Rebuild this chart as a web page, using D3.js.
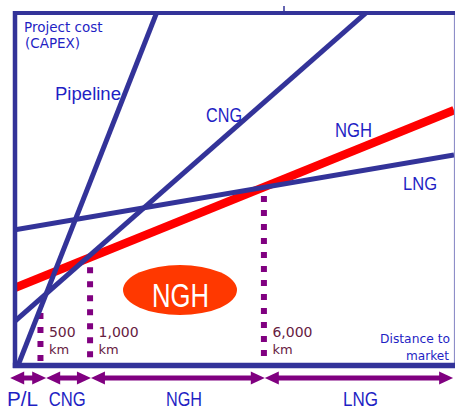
<!DOCTYPE html>
<html>
<head>
<meta charset="utf-8">
<script src="https://cdn.jsdelivr.net/npm/d3@7"></script>
<style>
  html, body { margin: 0; padding: 0; background: #fff; }
  svg { display: block; }
</style>
</head>
<body>
<svg id="chart" width="455" height="411"></svg>
<script>
// ---- data (abstract units 0..100) ----
const routes = ["Pipeline", "CNG", "NGH", "LNG"];
const costAtZero = [-2.3, 12.5, 21.9, 38.4];   // project cost at distance 0
const costAtEnd = [315, 122, 72.4, 59.7];      // project cost at distance 100

const breakLabels = ["500", "1,000", "6,000"];
const breakDistance = [5.8, 17.1, 56.7];
const breakTopCost = [14.8, 27.8, 48];

const segmentNames = ["P/L", "CNG", "NGH", "LNG"];
const segmentEdges = [-1.1, 7.1, 17.3, 56.9, 99.8];
const segmentLabelAt = [1.7, 11.9, 38.5, 78.7];

// ---- drawing ----
const svg = d3.select("#chart");
const x = d3.scaleLinear().domain([0, 100]).range([15, 454]);
const y = d3.scaleLinear().domain([0, 100]).range([365, 13]);

const navy = "#333399";
const textBlue = "#1f1fc4";
const purple = "#800080";
const maroon = "#66203f";

svg.append("defs").append("clipPath").attr("id", "plot")
  .append("rect")
  .attr("x", x(0)).attr("y", y(100))
  .attr("width", x(100) - x(0)).attr("height", y(0) - y(100));

// dotted break lines
const brk = svg.append("g");
breakDistance.forEach((d, i) => {
  brk.append("line")
    .attr("x1", x(d)).attr("x2", x(d))
    .attr("y1", y(breakTopCost[i])).attr("y2", y(0))
    .attr("stroke", purple).attr("stroke-width", 6)
    .attr("stroke-dasharray", "6 8");
});

// route lines
const lines = svg.append("g").attr("clip-path", "url(#plot)");
const order = [2, 0, 1, 3]; // red underneath the blue ones
order.forEach(i => {
  const isNGH = routes[i] === "NGH";
  lines.append("line")
    .attr("x1", x(0)).attr("y1", y(costAtZero[i]))
    .attr("x2", x(100)).attr("y2", y(costAtEnd[i]))
    .attr("stroke", isNGH ? "#ff0000" : navy)
    .attr("stroke-width", isNGH ? 8.5 : 5);
});

// frame
svg.append("line").attr("x1", x(100) + 0.5).attr("x2", x(100) + 0.5)
  .attr("y1", y(100)).attr("y2", y(0))
  .attr("stroke", "#8e8ec8").attr("stroke-width", 1.2);
svg.append("line").attr("x1", x(0) - 2).attr("x2", 455)
  .attr("y1", y(100)).attr("y2", y(100))
  .attr("stroke", navy).attr("stroke-width", 4);
svg.append("line").attr("x1", x(0)).attr("x2", x(0))
  .attr("y1", y(100) - 2).attr("y2", y(0) + 3)
  .attr("stroke", navy).attr("stroke-width", 4.5);
svg.append("line").attr("x1", x(0) - 2.2).attr("x2", 455)
  .attr("y1", y(0) + 0.5).attr("y2", y(0) + 0.5)
  .attr("stroke", navy).attr("stroke-width", 5.5);
// small tick above the top edge
svg.append("line").attr("x1", 284).attr("x2", 284)
  .attr("y1", 6).attr("y2", 11)
  .attr("stroke", navy).attr("stroke-width", 1.5);

// axis titles
const sans = "'DejaVu Sans', Verdana, sans-serif";
const arial = "'Liberation Sans', Arial, sans-serif";
function txt(t, px, py, opts) {
  const e = svg.append("text").text(t).attr("x", px).attr("y", py)
    .attr("font-family", opts.family || sans)
    .attr("font-size", opts.size)
    .attr("fill", opts.fill || textBlue)
    .attr("text-anchor", opts.anchor || "start");
  if (opts.len) e.attr("textLength", opts.len).attr("lengthAdjust", "spacingAndGlyphs");
  if (opts.weight) e.attr("font-weight", opts.weight);
  return e;
}
txt("Project cost", 24, 32, {size: 13.5});
txt("(CAPEX)", 25, 48, {size: 13.5});
txt("Distance to", 450, 343, {size: 13, anchor: "end", len: 70});
txt("market", 449, 360, {size: 13, anchor: "end", len: 43});

// route labels
const routeLabelPos = {
  "Pipeline": [55, 100, 18, 66],
  "CNG": [206, 122, 19.5, 36],
  "NGH": [335, 137, 20.5, 37],
  "LNG": [403, 190, 19, 34]
};
routes.forEach(r => {
  const p = routeLabelPos[r];
  txt(r, p[0], p[1], {size: p[2], len: p[3], family: arial});
});

// break labels
breakLabels.forEach((b, i) => {
  const px = x(breakDistance[i]) + 8.5;
  txt(b, px, 337, {size: 14, fill: maroon});
  txt("km", px, 354, {size: 13, fill: maroon});
});

// NGH highlight ellipse
svg.append("ellipse")
  .attr("cx", 180).attr("cy", 290).attr("rx", 57).attr("ry", 25)
  .attr("fill", "#ff3800");
txt("NGH", 180.5, 307, {size: 34, len: 57, family: arial, fill: "#ffffff", anchor: "middle"});

// segment arrows
const ay = 378, head = 14, hh = 6.5;
const arr = svg.append("g").attr("fill", purple);
segmentNames.forEach((s, i) => {
  const a = x(segmentEdges[i]), b = x(segmentEdges[i + 1]);
  arr.append("line")
    .attr("x1", a + head - 1).attr("x2", b - head + 1)
    .attr("y1", ay).attr("y2", ay)
    .attr("stroke", purple).attr("stroke-width", 5);
  arr.append("path").attr("d", `M${a},${ay}L${a + head},${ay - hh}L${a + head},${ay + hh}Z`);
  arr.append("path").attr("d", `M${b},${ay}L${b - head},${ay - hh}L${b - head},${ay + hh}Z`);
  const lens = {"P/L": 31, "CNG": 37, "NGH": 36, "LNG": 35};
  txt(s, x(segmentLabelAt[i]), 406, {size: 19.5, len: lens[s], family: arial, anchor: "middle"});
});
</script>
</body>
</html>
